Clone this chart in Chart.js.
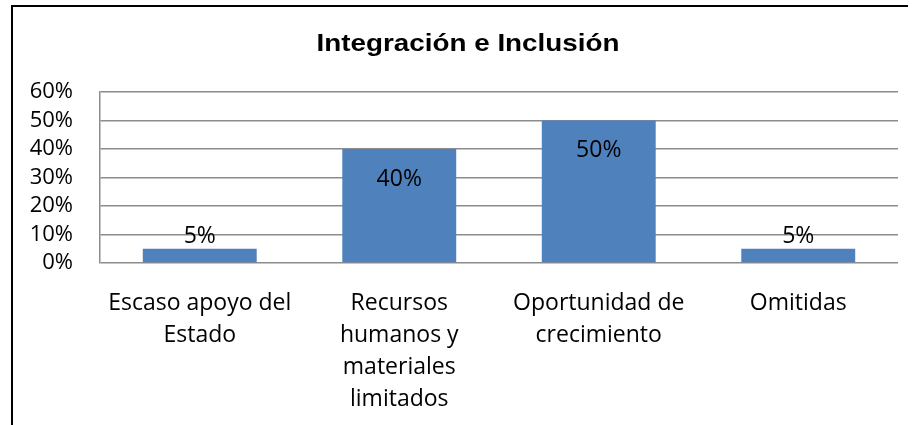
<!DOCTYPE html>
<html>
<head>
<meta charset="utf-8">
<script src="https://cdn.jsdelivr.net/npm/chart.js@4/dist/chart.umd.min.js"></script>
<style>
  html, body { margin: 0; padding: 0; background: #fff; overflow: hidden; }
  #wrap { position: relative; width: 917px; height: 425px; }
  #frame { position: absolute; left: 11px; top: 5px; width: 895px; height: 440px;
           border-top: 2px solid #000; border-left: 2px solid #000; pointer-events: none; }
  canvas { position: absolute; left: 0; top: 0; }
</style>
</head>
<body>
<div id="wrap">
  <canvas id="c" width="917" height="425"></canvas>
  <div id="frame"></div>
</div>
<script>
const chartTitle = "Integración e Inclusión";
const categories = [
  ["Escaso apoyo del", "Estado"],
  ["Recursos", "humanos y", "materiales", "limitados"],
  ["Oportunidad de", "crecimiento"],
  ["Omitidas"]
];
const values = [5, 40, 50, 5];
const yMin = 0, yMax = 60, yStep = 10;

const FONT = "'Open Sans', 'Noto Sans', sans-serif";

const dataLabels = {
  id: 'dataLabels',
  afterDatasetsDraw(chart) {
    const ctx = chart.ctx;
    const meta = chart.getDatasetMeta(0);
    ctx.save();
    ctx.font = "23px " + FONT;
    ctx.fillStyle = "#000";
    ctx.textAlign = "center";
    ctx.textBaseline = "middle";
    meta.data.forEach((bar, i) => {
      const p = bar.getProps(['x', 'y', 'base'], true);
      const h = p.base - p.y;
      const y = h > 40 ? p.y + 30 : p.y - 12;
      ctx.fillText(values[i] + "%", p.x, y);
    });
    ctx.restore();
  }
};

const titleDraw = {
  id: 'titleDraw',
  afterDraw(chart) {
    const ctx = chart.ctx;
    ctx.save();
    ctx.font = "bold 24px 'Liberation Sans', Arial, sans-serif";
    ctx.fillStyle = "#000";
    ctx.textAlign = "center";
    ctx.textBaseline = "middle";
    const w = ctx.measureText(chartTitle).width;
    const sx = 303 / w;
    ctx.translate(468, 44);
    ctx.scale(sx, 1);
    ctx.fillText(chartTitle, 0, 0);
    ctx.restore();
  }
};

new Chart(document.getElementById('c'), {
  type: 'bar',
  data: {
    labels: categories,
    datasets: [{
      data: values,
      backgroundColor: '#4F81BD',
      borderWidth: 0,
      barPercentage: 0.571,
      categoryPercentage: 1.0
    }]
  },
  options: {
    responsive: false,
    animation: false,
    layout: { padding: { left: 0, right: 19, top: 92, bottom: 0 } },
    plugins: {
      legend: { display: false },
      tooltip: { enabled: false },
      title: { display: false }
    },
    scales: {
      x: {
        grid: { display: false },
        border: { display: false },
        ticks: {
          color: '#000',
          font: { family: FONT, size: 23, lineHeight: 1.4 },
          padding: 16,
          maxRotation: 0,
          autoSkip: false
        },
        afterFit(scale) { scale.height = 162; }
      },
      y: {
        min: yMin,
        max: yMax,
        grid: { color: '#8c8c8c', lineWidth: 1.5, drawTicks: false },
        border: { display: true, color: '#8c8c8c', width: 1.5 },
        ticks: {
          stepSize: yStep,
          autoSkip: false,
          color: '#000',
          font: { family: FONT, size: 22 },
          padding: 27,
          callback: v => v + '%'
        },
        afterFit(scale) { scale.width = 100; }
      }
    }
  },
  plugins: [dataLabels, titleDraw]
});
</script>
</body>
</html>
